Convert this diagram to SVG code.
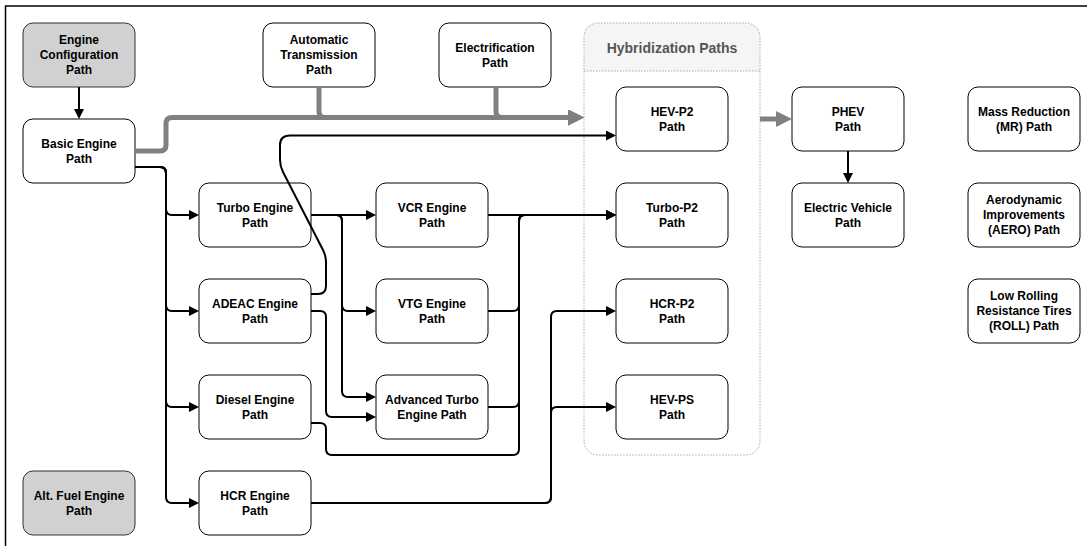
<svg xmlns="http://www.w3.org/2000/svg" width="1087" height="546" viewBox="0 0 1087 546">
<style>
.n rect{fill:#fff;stroke:#000;stroke-width:1}
.n.g rect{fill:#d1d1d1;stroke:#333}
.n text{font-family:"Liberation Sans",Arial,sans-serif;font-weight:bold;font-size:12px;text-anchor:middle;fill:#000}
.c{fill:none;stroke:#000;stroke-width:2;stroke-linejoin:round}
.gc{fill:none;stroke:#808080;stroke-width:5;stroke-linejoin:round}
.hdr{font-family:"Liberation Sans",Arial,sans-serif;font-weight:bold;font-size:14px;text-anchor:middle;fill:#555}
</style>
<defs>
<marker id="ab" markerUnits="userSpaceOnUse" markerWidth="10" markerHeight="10" refX="0" refY="5" orient="auto"><path d="M0,0 L10,5 L0,10 z" fill="#000"/></marker>
<marker id="ag" markerUnits="userSpaceOnUse" markerWidth="16" markerHeight="16" refX="0" refY="8" orient="auto"><path d="M0,0 L16,8 L0,16 z" fill="#808080"/></marker>
</defs>
<rect x="5.5" y="6" width="1120" height="580" fill="#fff" stroke="#000" stroke-width="1.5"/>
<g id="hybridization-paths">
<path d="M584,71 V37 Q584,23 598,23 H746 Q760,23 760,37 V71 Z" fill="#f5f5f5"/>
<rect x="584" y="23" width="176" height="432" rx="14" fill="none" stroke="#aaa" stroke-width="1" stroke-dasharray="1.5 1.5"/>
<line x1="584" y1="71" x2="760" y2="71" stroke="#aaa" stroke-width="1" stroke-dasharray="1.5 1.5"/>
<text class="hdr" x="672" y="53">Hybridization Paths</text>
</g>
<g id="engine-config" class="n g"><rect x="23" y="23" width="112" height="64" rx="10"/><text x="79" y="44">Engine</text><text x="79" y="59">Configuration</text><text x="79" y="74">Path</text></g>
<g id="basic-engine" class="n"><rect x="23" y="119" width="112" height="64" rx="10"/><text x="79" y="147.5">Basic Engine</text><text x="79" y="162.5">Path</text></g>
<g id="auto-trans" class="n"><rect x="263" y="23" width="112" height="64" rx="10"/><text x="319" y="44">Automatic</text><text x="319" y="59">Transmission</text><text x="319" y="74">Path</text></g>
<g id="electrification" class="n"><rect x="439" y="23" width="112" height="64" rx="10"/><text x="495" y="51.5">Electrification</text><text x="495" y="66.5">Path</text></g>
<g id="hev-p2" class="n"><rect x="616" y="87" width="112" height="64" rx="10"/><text x="672" y="115.5">HEV-P2</text><text x="672" y="130.5">Path</text></g>
<g id="turbo-p2" class="n"><rect x="616" y="183" width="112" height="64" rx="10"/><text x="672" y="211.5">Turbo-P2</text><text x="672" y="226.5">Path</text></g>
<g id="hcr-p2" class="n"><rect x="616" y="279" width="112" height="64" rx="10"/><text x="672" y="307.5">HCR-P2</text><text x="672" y="322.5">Path</text></g>
<g id="hev-ps" class="n"><rect x="616" y="375" width="112" height="64" rx="10"/><text x="672" y="403.5">HEV-PS</text><text x="672" y="418.5">Path</text></g>
<g id="phev" class="n"><rect x="792" y="87" width="112" height="64" rx="10"/><text x="848" y="115.5">PHEV</text><text x="848" y="130.5">Path</text></g>
<g id="ev" class="n"><rect x="792" y="183" width="112" height="64" rx="10"/><text x="848" y="211.5">Electric Vehicle</text><text x="848" y="226.5">Path</text></g>
<g id="mr" class="n"><rect x="968" y="87" width="112" height="64" rx="10"/><text x="1024" y="115.5">Mass Reduction</text><text x="1024" y="130.5">(MR) Path</text></g>
<g id="aero" class="n"><rect x="968" y="183" width="112" height="64" rx="10"/><text x="1024" y="204">Aerodynamic</text><text x="1024" y="219">Improvements</text><text x="1024" y="234">(AERO) Path</text></g>
<g id="roll" class="n"><rect x="968" y="279" width="112" height="64" rx="10"/><text x="1024" y="300">Low Rolling</text><text x="1024" y="315">Resistance Tires</text><text x="1024" y="330">(ROLL) Path</text></g>
<g id="turbo" class="n"><rect x="199" y="183" width="112" height="64" rx="10"/><text x="255" y="211.5">Turbo Engine</text><text x="255" y="226.5">Path</text></g>
<g id="adeac" class="n"><rect x="199" y="279" width="112" height="64" rx="10"/><text x="255" y="307.5">ADEAC Engine</text><text x="255" y="322.5">Path</text></g>
<g id="diesel" class="n"><rect x="199" y="375" width="112" height="64" rx="10"/><text x="255" y="403.5">Diesel Engine</text><text x="255" y="418.5">Path</text></g>
<g id="hcr" class="n"><rect x="199" y="471" width="112" height="64" rx="10"/><text x="255" y="499.5">HCR Engine</text><text x="255" y="514.5">Path</text></g>
<g id="vcr" class="n"><rect x="376" y="183" width="112" height="64" rx="10"/><text x="432" y="211.5">VCR Engine</text><text x="432" y="226.5">Path</text></g>
<g id="vtg" class="n"><rect x="376" y="279" width="112" height="64" rx="10"/><text x="432" y="307.5">VTG Engine</text><text x="432" y="322.5">Path</text></g>
<g id="adv-turbo" class="n"><rect x="376" y="375" width="112" height="64" rx="10"/><text x="432" y="403.5">Advanced Turbo</text><text x="432" y="418.5">Engine Path</text></g>
<g id="alt-fuel" class="n g"><rect x="23" y="471" width="112" height="64" rx="10"/><text x="79" y="499.5">Alt. Fuel Engine</text><text x="79" y="514.5">Path</text></g>
<g id="connectors">
<path class="gc" d="M135,151 H160 Q166,151 166,145 V123.5 Q166,117.5 172,117.5 H568" marker-end="url(#ag)"/>
<path class="gc" d="M319,87 V111.5 Q319,117.5 325,117.5 H568" marker-end="url(#ag)"/>
<path class="gc" d="M496,87 V111.5 Q496,117.5 502,117.5 H568" marker-end="url(#ag)"/>
<path class="gc" d="M760,119 H776" marker-end="url(#ag)"/>
<path class="c" d="M79,87 V109" marker-end="url(#ab)"/>
<path class="c" d="M135,167 H160 Q166,167 166,173 V209 Q166,215 172,215 H189" marker-end="url(#ab)"/>
<path class="c" d="M135,167 H160 Q166,167 166,173 V305 Q166,311 172,311 H189" marker-end="url(#ab)"/>
<path class="c" d="M135,167 H160 Q166,167 166,173 V401 Q166,407 172,407 H189" marker-end="url(#ab)"/>
<path class="c" d="M135,167 H160 Q166,167 166,173 V497 Q166,503 172,503 H189" marker-end="url(#ab)"/>
<path class="c" d="M311,215 H366" marker-end="url(#ab)"/>
<path class="c" d="M311,215 H336 Q342,215 342,221 V305 Q342,311 348,311 H366" marker-end="url(#ab)"/>
<path class="c" d="M311,215 H336 Q342,215 342,221 V391 Q342,397 348,397 H366" marker-end="url(#ab)"/>
<path class="c" d="M311,311 H320 Q326,311 326,317 V411 Q326,417 332,417 H366" marker-end="url(#ab)"/>
<path class="c" d="M311,294 H318 Q326,294 326,286 V262 Q326,256 323,250 L283,172 Q280,166 280,160 V145 Q280,135.5 290,135.5 H606" marker-end="url(#ab)"/>
<path class="c" d="M488,215 H606" marker-end="url(#ab)"/>
<path class="c" d="M488,311 H513 Q519,311 519,305 V221 Q519,215 525,215 H606" marker-end="url(#ab)"/>
<path class="c" d="M488,407 H513 Q519,407 519,401 V221 Q519,215 525,215 H606" marker-end="url(#ab)"/>
<path class="c" d="M311,423 H320 Q326,423 326,429 V449 Q326,455 332,455 H513 Q519,455 519,449 V221 Q519,215 525,215 H606" marker-end="url(#ab)"/>
<path class="c" d="M311,503 H545 Q551,503 551,497 V317 Q551,311 557,311 H606" marker-end="url(#ab)"/>
<path class="c" d="M311,503 H545 Q551,503 551,497 V413 Q551,407 557,407 H606" marker-end="url(#ab)"/>
<path class="c" d="M848,151 V173" marker-end="url(#ab)"/>
</g>
</svg>
